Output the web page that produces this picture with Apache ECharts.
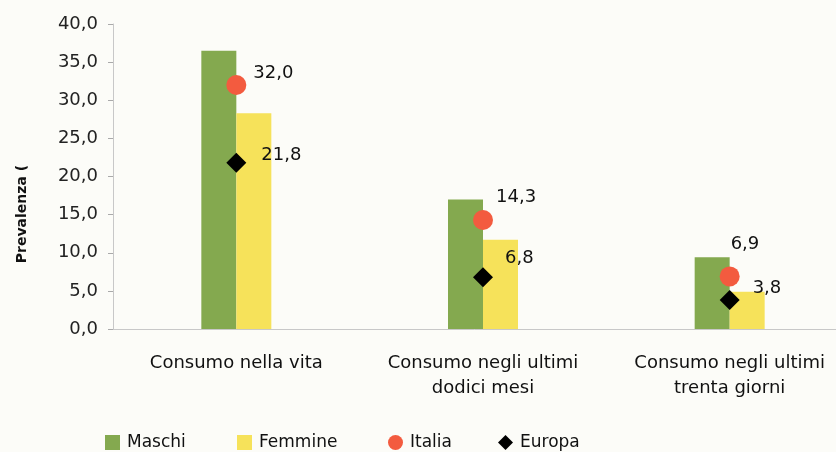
<!DOCTYPE html>
<html>
<head>
<meta charset="utf-8">
<script src="https://cdn.jsdelivr.net/npm/echarts@6/dist/echarts.min.js"></script>
<style>html,body{margin:0;padding:0;background:#fcfcf8;}#c{width:836px;height:452px;}</style>
</head>
<body>
<div id="c"></div>
<script>
var categories = ['Consumo nella vita', 'Consumo negli ultimi\ndodici mesi', 'Consumo negli ultimi\ntrenta giorni'];
var maschi = [36.5, 17.0, 9.4];
var femmine = [28.3, 11.7, 4.9];
var italia = [32.0, 14.3, 6.9];
var europa = [21.8, 6.8, 3.8];
var yTicks = { min: 0, max: 40, interval: 5 };

var italiaLabelOffsets = [[7, -12], [3, -23], [-9, -32]];
var europaLabelOffsets = [[15, -7], [12, -19], [13, -12]];

var FONT = 'DejaVu Sans';
function fmt(v) { return v.toFixed(1).replace('.', ','); }

var chart = echarts.init(document.getElementById('c'));
var legendBase = {
  top: 429, itemWidth: 15, itemHeight: 15,
  textStyle: { fontFamily: FONT, fontSize: 17, color: '#111', padding: [0, 0, 0, 2] }
};
chart.setOption({
  backgroundColor: '#fcfcf8',
  animation: false,
  grid: { left: 113, top: 24, height: 305, width: 740, outerBoundsMode: 'none', containLabel: false },
  legend: [
    Object.assign({ left: 100, data: [{ name: 'Maschi', icon: 'rect' }] }, legendBase),
    Object.assign({ left: 232, data: [{ name: 'Femmine', icon: 'rect' }] }, legendBase),
    Object.assign({ left: 383, data: [{ name: 'Italia', icon: 'circle' }] }, legendBase),
    Object.assign({ left: 493, data: [{ name: 'Europa', icon: 'diamond' }] }, legendBase)
  ],
  xAxis: {
    type: 'category', data: categories,
    axisLine: { lineStyle: { color: '#c8c8c8' } },
    axisTick: { show: false },
    axisLabel: { fontFamily: FONT, fontSize: 18, color: '#111', margin: 22, lineHeight: 25, interval: 0 }
  },
  yAxis: {
    type: 'value', min: yTicks.min, max: yTicks.max, interval: yTicks.interval,
    splitLine: { show: false },
    axisLine: { show: true, lineStyle: { color: '#c8c8c8' } },
    axisTick: { show: true, length: 5, lineStyle: { color: '#aaa' } },
    axisLabel: { fontFamily: FONT, fontSize: 18, color: '#222', margin: 15, formatter: function (v) { return fmt(v); } }
  },
  graphic: [{
    type: 'text', x: 22, y: 214, rotation: Math.PI / 2,
    style: { text: 'Prevalenza (', fontFamily: FONT, fontWeight: 'bold', fontSize: 14, fill: '#111', align: 'center', verticalAlign: 'middle' }
  }],
  series: [
    { name: 'Maschi', type: 'bar', data: maschi, barWidth: 35, barGap: '0%', itemStyle: { color: '#84a94f' } },
    { name: 'Femmine', type: 'bar', data: femmine, barWidth: 35, barGap: '0%', itemStyle: { color: '#f6e25a' } },
    {
      name: 'Italia', type: 'scatter', symbol: 'circle', symbolSize: 20, z: 5,
      itemStyle: { color: '#f35b3f', opacity: 1 },
      data: italia.map(function (v, i) {
        return { value: v, label: { offset: italiaLabelOffsets[i] } };
      }),
      label: { show: true, position: 'right', distance: 0, fontFamily: FONT, fontSize: 18, color: '#111', formatter: function (p) { return fmt(p.value); } }
    },
    {
      name: 'Europa', type: 'scatter', symbol: 'diamond', symbolSize: [20, 20], z: 5,
      itemStyle: { color: '#000', opacity: 1 },
      data: europa.map(function (v, i) {
        return { value: v, label: { offset: europaLabelOffsets[i] } };
      }),
      label: { show: true, position: 'right', distance: 0, fontFamily: FONT, fontSize: 18, color: '#111', formatter: function (p) { return fmt(p.value); } }
    }
  ]
});
</script>
</body>
</html>
